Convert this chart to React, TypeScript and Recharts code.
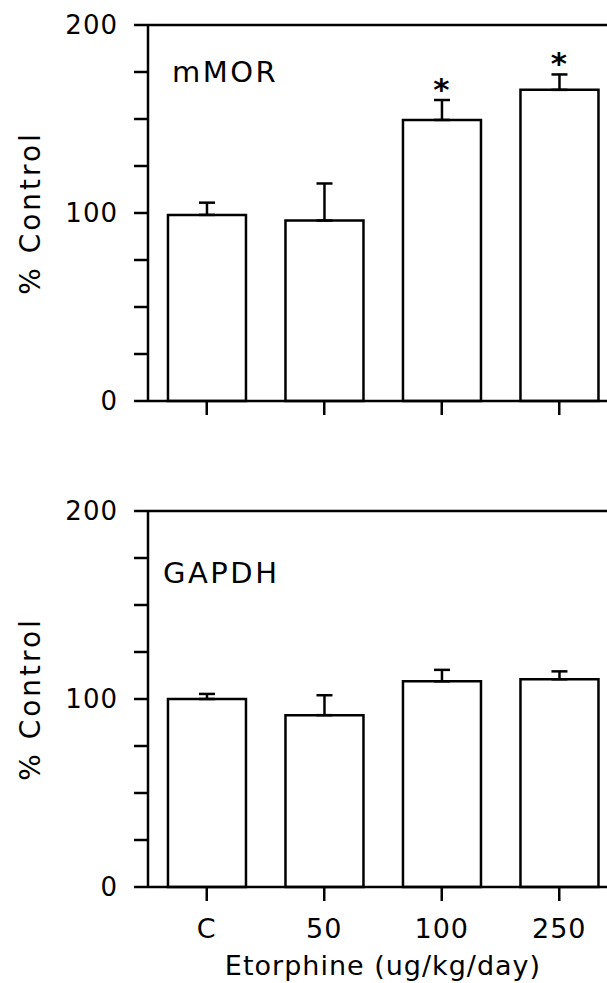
import { BarChart, Bar, XAxis, YAxis, ErrorBar, LabelList, ReferenceLine } from 'recharts'

const DOSES = ['C', '50', '100', '250']

const MOR_MEAN = [99, 96, 149.5, 165.5]
const MOR_SEM = [6.5, 19.7, 10.6, 8.2]
const MOR_SIG = ['', '', '*', '*']

const GAPDH_MEAN = [100, 91.4, 109.4, 110.5]
const GAPDH_SEM = [2.7, 10.6, 6.1, 4.2]
const GAPDH_SIG = ['', '', '', '']

const Y_TICKS = [0, 25, 50, 75, 100, 125, 150, 175, 200]
const Y_LABELED = [0, 100, 200]

const INK = '#000'
const LINE = 2.5
const FONT = '"DejaVu Sans", sans-serif'

interface PanelProps {
  name: string
  mean: number[]
  sem: number[]
  sig: string[]
  top: number
  nameDx: number
  nameDy: number
  showDoses?: boolean
}

function Panel({ name, mean, sem, sig, top, nameDx, nameDy, showDoses }: PanelProps) {
  const data = DOSES.map((dose, i) => ({
    dose,
    mean: mean[i],
    err: [0, sem[i]],
    gap: sem[i],
    sig: sig[i],
  }))
  const axisHeight = showDoses ? 119 : 29

  return (
    <div style={{ position: 'absolute', left: 0, top }}>
      <BarChart
        width={640}
        height={25 + 376 + axisHeight}
        data={data}
        margin={{ top: 25, right: 22, left: 0, bottom: 0 }}
        barCategoryGap="17%"
      >
        <XAxis
          dataKey="dose"
          height={axisHeight}
          tickSize={14}
          tickMargin={18}
          axisLine={{ stroke: INK, strokeWidth: LINE }}
          tickLine={{ stroke: INK, strokeWidth: LINE }}
          tick={{ fill: INK, fontSize: 27 }}
          tickFormatter={(v) => (showDoses ? v : '')}
          label={
            showDoses
              ? {
                  content: ({ viewBox }: any) => (
                    <text
                      x={viewBox.x + viewBox.width / 2}
                      y={viewBox.y + 88}
                      textAnchor="middle"
                      fontSize={27}
                      fill={INK}
                      style={{ letterSpacing: '1px' }}
                    >
                      Etorphine (ug/kg/day)
                    </text>
                  ),
                }
              : undefined
          }
        />
        <YAxis
          width={148}
          domain={[0, 200]}
          ticks={Y_TICKS}
          interval={0}
          tickSize={14}
          tickMargin={16}
          axisLine={{ stroke: INK, strokeWidth: LINE }}
          tickLine={{ stroke: INK, strokeWidth: LINE }}
          tick={{ fill: INK, fontSize: 26 }}
          tickFormatter={(v) => (Y_LABELED.includes(v) ? String(v) : '')}
          label={{
            content: ({ viewBox }: any) => {
              const cx = viewBox.x + 30
              const cy = viewBox.y + viewBox.height / 2
              return (
                <text
                  x={cx}
                  y={cy}
                  transform={`rotate(-90 ${cx} ${cy})`}
                  textAnchor="middle"
                  dominantBaseline="central"
                  fontSize={28}
                  fill={INK}
                  style={{ letterSpacing: '3px' }}
                >
                  % Control
                </text>
              )
            },
          }}
        />
        <ReferenceLine
          y={200}
          stroke={INK}
          strokeWidth={LINE}
          label={{
            content: ({ viewBox }: any) => (
              <text
                x={viewBox.x + nameDx}
                y={viewBox.y + nameDy}
                fontSize={29}
                fill={INK}
                style={{ letterSpacing: '2.5px' }}
              >
                {name}
              </text>
            ),
          }}
        />
        <Bar dataKey="mean" stackId="s" fill="#fff" stroke={INK} strokeWidth={LINE} isAnimationActive={false}>
          <ErrorBar dataKey="err" direction="y" width={8} stroke={INK} strokeWidth={LINE} />
        </Bar>
        <Bar dataKey="gap" stackId="s" fill="none" stroke="none" isAnimationActive={false}>
          <LabelList dataKey="sig" position="top" offset={0} fill={INK} fontSize={31} fontWeight="bold" />
        </Bar>
      </BarChart>
    </div>
  )
}

export default function App() {
  return (
    <div
      style={{
        position: 'absolute',
        left: 0,
        top: 0,
        width: 607,
        height: 983,
        overflow: 'hidden',
        background: '#fff',
        fontFamily: FONT,
        letterSpacing: '1px',
      }}
    >
      <Panel name="mMOR" mean={MOR_MEAN} sem={MOR_SEM} sig={MOR_SIG} top={0} nameDx={24} nameDy={57} />
      <Panel
        name="GAPDH"
        mean={GAPDH_MEAN}
        sem={GAPDH_SEM}
        sig={GAPDH_SIG}
        top={486}
        nameDx={15}
        nameDy={72}
        showDoses
      />
    </div>
  )
}
